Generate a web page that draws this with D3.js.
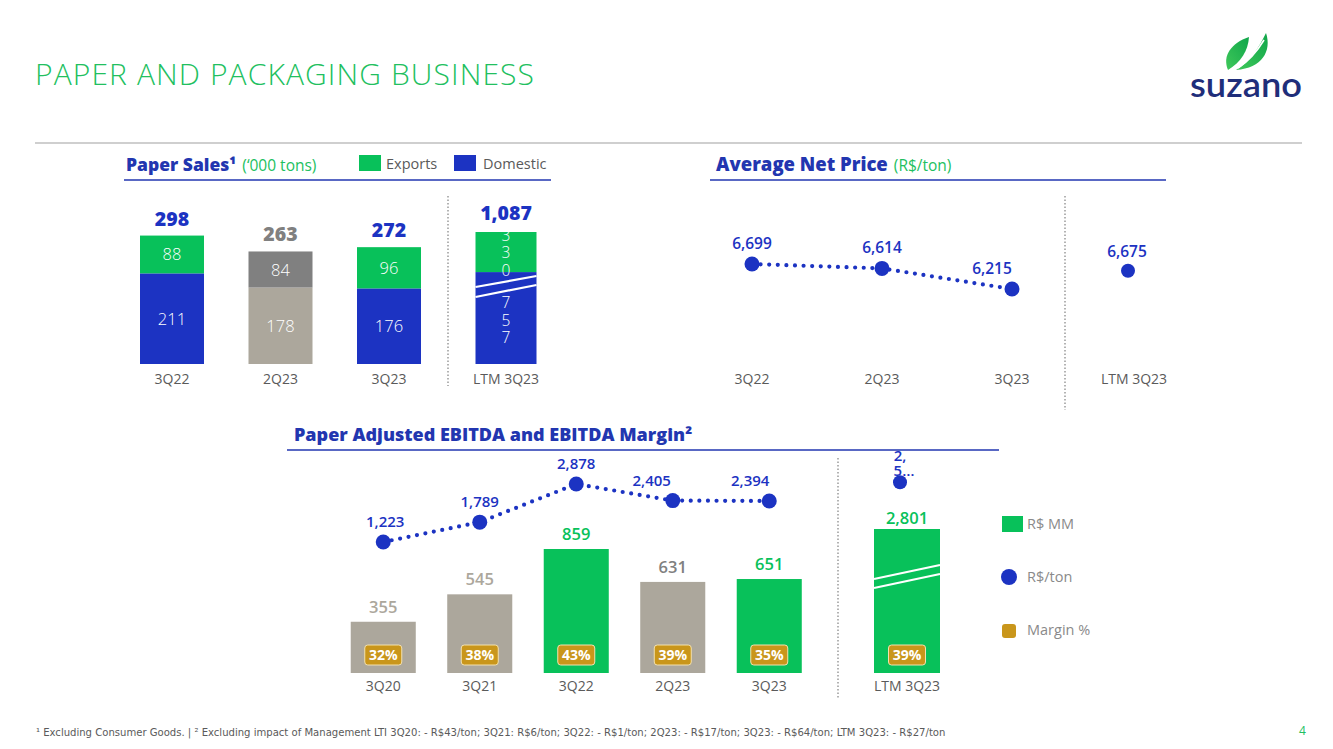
<!DOCTYPE html>
<html><head><meta charset="utf-8">
<script src="https://cdn.jsdelivr.net/npm/d3@7"></script>
<style>
body{margin:0;background:#fff;}
svg{display:block;font-family:"Open Sans",sans-serif;}
</style></head><body>
<svg id="c" width="1333" height="749"></svg>
<script>
// ---------------- DATA ----------------
const salesCats = ["3Q22", "2Q23", "3Q23"];
const salesExports = [88, 84, 96];
const salesDomestic = [211, 178, 176];
const salesTotal = [298, 263, 272];
const salesLtmCat = "LTM 3Q23";
const salesLtmExports = 330;
const salesLtmDomestic = 757;
const salesLtmTotal = 1087;

const priceCats = ["3Q22", "2Q23", "3Q23"];
const priceValues = [6699, 6614, 6215];
const priceLtmCat = "LTM 3Q23";
const priceLtmValue = 6675;

const ebitdaCats = ["3Q20", "3Q21", "3Q22", "2Q23", "3Q23"];
const ebitdaValues = [355, 545, 859, 631, 651];
const ebitdaPerTon = [1223, 1789, 2878, 2405, 2394];
const ebitdaMargin = [32, 38, 43, 39, 35];
const ebitdaLtmCat = "LTM 3Q23";
const ebitdaLtmValue = 2801;
const ebitdaLtmPerTon = 2575;   // label is truncated in the source ("2,5…")
const ebitdaLtmMargin = 39;

const salesLegend = ["Exports", "Domestic"];
const ebitdaLegend = ["R$ MM", "R$/ton", "Margin %"];

// ---------------- STYLE ----------------
const C = {
  blue: "#1c33c2", head: "#2236b0", green: "#08c15a", gray: "#aca79c",
  dgray: "#808080", text: "#5a5a5a", gold: "#c9961b", title: "#22bf60"
};
const highlight = new Set(["3Q22", "3Q23"]);
const fmt = d3.format(",");

const svg = d3.select("#c");

// ---------------- HEADER ----------------
svg.append("text").attr("x", 35).attr("y", 85)
  .attr("font-size", 30).attr("font-weight", 300).attr("fill", C.title).attr("letter-spacing", 1.1)
  .text("PAPER AND PACKAGING BUSINESS");

// logo
const logo = svg.append("g");
const lg = svg.append("defs").append("linearGradient").attr("id", "lf")
  .attr("x1", "0").attr("y1", "1").attr("x2", "1").attr("y2", "0");
lg.append("stop").attr("offset", "0").attr("stop-color", "#3fc85a");
lg.append("stop").attr("offset", "1").attr("stop-color", "#10a64a");
logo.append("path").attr("fill", "url(#lf)")
  .attr("d", "M1228,70 C1222,56 1231,43 1249,37 C1248,51 1241,62 1228,70Z");
logo.append("path").attr("fill", "url(#lf)")
  .attr("d", "M1236,70 C1251,61 1259,47 1266,33 C1272,51 1262,68 1236,70Z");
logo.append("path").attr("stroke", "#fff").attr("stroke-width", 1.6).attr("fill", "none")
  .attr("d", "M1238,68 C1250,60 1258,50 1264,40");
logo.append("text").attr("x", 1190).attr("y", 97).attr("font-family", "Lato, sans-serif")
  .attr("font-size", 35).attr("font-weight", 600).attr("fill", "#1f2e7a")
  .attr("textLength", 112).attr("lengthAdjust", "spacingAndGlyphs").text("suzano");

svg.append("line").attr("x1", 35).attr("x2", 1302).attr("y1", 143).attr("y2", 143)
  .attr("stroke", "#cfcfcf").attr("stroke-width", 2);

function heading(x, y, bold, sub, lineX1, lineX2, lineY, size) {
  const t = svg.append("text").attr("x", x).attr("y", y);
  t.append("tspan").attr("font-size", size).attr("font-weight", 800).attr("fill", C.head).text(bold);
  if (sub) t.append("tspan").attr("dx", 6).attr("font-size", 15.5).attr("fill", C.title).text(sub);
  svg.append("line").attr("x1", lineX1).attr("x2", lineX2).attr("y1", lineY).attr("y2", lineY)
    .attr("stroke", C.head).attr("stroke-width", 1.5);
}
function separator(x, y1, y2) {
  svg.append("line").attr("x1", x).attr("x2", x).attr("y1", y1).attr("y2", y2)
    .attr("stroke", "#9a9a9a").attr("stroke-width", 1.5).attr("stroke-dasharray", "1.5 2");
}
function xLabel(x, y, t) {
  svg.append("text").attr("x", x).attr("y", y).attr("text-anchor", "middle")
    .attr("font-size", 14).attr("fill", C.text).text(t);
}

// ---------------- PAPER SALES ----------------
heading(126, 171, "Paper Sales¹", "(‘000 tons)", 124, 551, 180, 17.5);
const salesLegCol = [C.green, C.blue];
const legX = d3.scalePoint().domain(salesLegend).range([359, 454]);
salesLegend.forEach((k, i) => {
  svg.append("rect").attr("x", legX(k)).attr("y", 155).attr("width", 22).attr("height", 16).attr("fill", salesLegCol[i]);
  svg.append("text").attr("x", legX(k) + 27 + i * 2).attr("y", 169).attr("font-size", 14.5).attr("fill", C.text).text(k);
});

const xS = d3.scalePoint().domain(salesCats).range([172, 389]);
const yS = d3.scaleLinear().domain([0, d3.max(salesTotal)]).range([364, 236]);
const bwS = 64;
const salesG = svg.append("g");
salesCats.forEach((c, i) => {
  const hl = highlight.has(c);
  const cx = xS(c), dom = salesDomestic[i], exp = salesExports[i];
  salesG.append("rect").attr("x", cx - bwS / 2).attr("width", bwS)
    .attr("y", yS(dom)).attr("height", yS(0) - yS(dom)).attr("fill", hl ? C.blue : C.gray);
  salesG.append("rect").attr("x", cx - bwS / 2).attr("width", bwS)
    .attr("y", yS(dom + exp)).attr("height", yS(dom) - yS(dom + exp)).attr("fill", hl ? C.green : C.dgray);
  salesG.append("text").attr("x", cx).attr("y", (yS(dom) + yS(0)) / 2 + 6).attr("text-anchor", "middle")
    .attr("font-size", 16.5).attr("font-weight", 300).attr("fill", "#fff").text(dom);
  salesG.append("text").attr("x", cx).attr("y", (yS(dom) + yS(dom + exp)) / 2 + 6).attr("text-anchor", "middle")
    .attr("font-size", 16.5).attr("font-weight", 300).attr("fill", "#fff").text(exp);
  salesG.append("text").attr("x", cx).attr("y", yS(salesTotal[i]) - 10).attr("text-anchor", "middle")
    .attr("font-size", 19.5).attr("font-weight", 800).attr("fill", hl ? C.blue : C.dgray).text(salesTotal[i]);
  xLabel(cx, 384, c);
});
separator(448, 196, 386);
// LTM (broken bar, own scale)
const xSL = d3.scalePoint().domain([salesLtmCat]).range([506, 506]);
const ySL = d3.scaleLinear().domain([0, salesLtmTotal]).range([364, 232]);
const lx = xSL(salesLtmCat), lbw = 61;
salesG.append("clipPath").attr("id", "clipS").append("rect")
  .attr("x", lx - lbw / 2).attr("y", ySL(salesLtmTotal)).attr("width", lbw).attr("height", ySL(0) - ySL(salesLtmTotal));
salesG.append("rect").attr("x", lx - lbw / 2).attr("width", lbw)
  .attr("y", ySL(salesLtmDomestic)).attr("height", ySL(0) - ySL(salesLtmDomestic)).attr("fill", C.blue);
salesG.append("rect").attr("x", lx - lbw / 2).attr("width", lbw)
  .attr("y", ySL(salesLtmTotal)).attr("height", ySL(salesLtmDomestic) - ySL(salesLtmTotal)).attr("fill", C.green);
function vertText(g, x, cy, str) {
  const chars = String(str).split("");
  const lh = 17.5;
  const t = g.append("text").attr("text-anchor", "middle").attr("font-size", 15.5).attr("font-weight", 300)
    .attr("fill", "#fff").attr("clip-path", "url(#clipS)");
  chars.forEach((ch, k) => {
    t.append("tspan").attr("x", x).attr("y", cy - (chars.length - 1) / 2 * lh + k * lh + 5.5).text(ch);
  });
}
vertText(salesG, lx, (ySL(salesLtmTotal) + ySL(salesLtmDomestic)) / 2 + 0.5, salesLtmExports);
vertText(salesG, lx, (ySL(salesLtmDomestic) + ySL(0)) / 2 + 2, salesLtmDomestic);
salesG.append("path").attr("d", `M${lx - lbw / 2},287 L${lx + lbw / 2},276 M${lx - lbw / 2},297 L${lx + lbw / 2},285`)
  .attr("stroke", "#fff").attr("stroke-width", 2.2);
salesG.append("text").attr("x", lx).attr("y", ySL(salesLtmTotal) - 12).attr("text-anchor", "middle")
  .attr("font-size", 19.5).attr("font-weight", 800).attr("fill", C.blue).text(fmt(salesLtmTotal));
xLabel(lx, 384, salesLtmCat);

// ---------------- AVERAGE NET PRICE ----------------
heading(716, 171, "Average Net Price", "(R$/ton)", 710, 1166, 180, 18.5);
const xP = d3.scalePoint().domain(priceCats).range([752, 1012]);
const yP = d3.scaleLinear().domain([d3.min(priceValues), d3.max(priceValues)]).range([289, 264]);
const priceG = svg.append("g");
const dotted = { "stroke": C.blue, "stroke-width": 4.2, "stroke-dasharray": "0 8.6", "stroke-linecap": "round", "fill": "none" };
const pl = priceG.append("path").attr("d", d3.line().x((d, i) => xP(priceCats[i])).y(d => yP(d))(priceValues));
Object.entries(dotted).forEach(([k, v]) => pl.attr(k, v));
const priceLabelDx = [0, 0, -20];
priceValues.forEach((v, i) => {
  priceG.append("circle").attr("cx", xP(priceCats[i])).attr("cy", yP(v)).attr("r", 7.5).attr("fill", C.blue);
  priceG.append("text").attr("x", xP(priceCats[i]) + priceLabelDx[i]).attr("y", yP(v) - 15).attr("text-anchor", "middle")
    .attr("font-size", 15.5).attr("font-weight", 600).attr("fill", C.blue).text(fmt(v));
  xLabel(xP(priceCats[i]), 384, priceCats[i]);
});
separator(1065, 196, 410);
const xPL = d3.scalePoint().domain([priceLtmCat]).range([1128, 1128]);
const yPL = d3.scaleLinear().domain([5800, 7000]).range([316, 254]);
priceG.append("circle").attr("cx", xPL(priceLtmCat)).attr("cy", yPL(priceLtmValue)).attr("r", 7).attr("fill", C.blue);
priceG.append("text").attr("x", xPL(priceLtmCat) - 1).attr("y", yPL(priceLtmValue) - 14).attr("text-anchor", "middle")
  .attr("font-size", 15.5).attr("font-weight", 600).attr("fill", C.blue).text(fmt(priceLtmValue));
xLabel(xPL(priceLtmCat) + 6, 384, priceLtmCat);

// ---------------- EBITDA ----------------
heading(294, 441, "Paper Adjusted EBITDA and EBITDA Margin²", null, 287, 999, 450, 18);
const xE = d3.scaleBand().domain(ebitdaCats).range([335, 817.5]).paddingInner(0.326).paddingOuter(0.163);
const yE = d3.scaleLinear().domain([0, d3.max(ebitdaValues)]).range([673, 549]);
const yT = d3.scaleLinear().domain([d3.min(ebitdaPerTon), d3.max(ebitdaPerTon)]).range([542, 484]);
const eG = svg.append("g");
function badge(g, cx, cy, m) {
  g.append("rect").attr("x", cx - 18.5).attr("y", cy - 10).attr("width", 37).attr("height", 20).attr("rx", 3)
    .attr("fill", C.gold).attr("stroke", "#f3e1ae").attr("stroke-width", 1);
  g.append("text").attr("x", cx).attr("y", cy + 5).attr("text-anchor", "middle")
    .attr("font-size", 14).attr("font-weight", 700).attr("fill", "#fff").text(m + "%");
}
const valColor = { "3Q20": C.gray, "3Q21": C.gray, "2Q23": C.dgray };
ebitdaCats.forEach((c, i) => {
  const hl = highlight.has(c);
  const x = xE(c), cx = x + xE.bandwidth() / 2, v = ebitdaValues[i];
  eG.append("rect").attr("x", x).attr("width", xE.bandwidth()).attr("y", yE(v)).attr("height", yE(0) - yE(v))
    .attr("fill", hl ? C.green : C.gray);
  eG.append("text").attr("x", cx).attr("y", yE(v) - 9).attr("text-anchor", "middle")
    .attr("font-size", 16.5).attr("font-weight", 600).attr("fill", hl ? C.green : valColor[c]).text(v);
  badge(eG, cx, 655, ebitdaMargin[i]);
  xLabel(cx, 691, c);
});
const el = eG.append("path").attr("d", d3.line().x((d, i) => xE(ebitdaCats[i]) + xE.bandwidth() / 2).y(d => yT(d))(ebitdaPerTon));
Object.entries(dotted).forEach(([k, v]) => el.attr(k, v));
const tonDx = [2, 0, 0, -21, -19];
ebitdaPerTon.forEach((v, i) => {
  const cx = xE(ebitdaCats[i]) + xE.bandwidth() / 2;
  eG.append("circle").attr("cx", cx).attr("cy", yT(v)).attr("r", 7.5).attr("fill", C.blue);
  eG.append("text").attr("x", cx + tonDx[i]).attr("y", yT(v) - 15).attr("text-anchor", "middle")
    .attr("font-size", 15).attr("font-weight", 600).attr("fill", C.blue).text(fmt(v));
});
separator(838, 458, 698);
// LTM
const xEL = d3.scalePoint().domain([ebitdaLtmCat]).range([907, 907]);
const yEL = d3.scaleLinear().domain([0, ebitdaLtmValue]).range([673, 529]);
const yTL = d3.scaleLinear().domain([2000, 3000]).range([515, 458]);
const ex = xEL(ebitdaLtmCat), ebw = 66;
eG.append("rect").attr("x", ex - ebw / 2).attr("width", ebw).attr("y", yEL(ebitdaLtmValue))
  .attr("height", yEL(0) - yEL(ebitdaLtmValue)).attr("fill", C.green);
eG.append("path").attr("d", `M${ex - ebw / 2},579 L${ex + ebw / 2},565 M${ex - ebw / 2},588 L${ex + ebw / 2},574`)
  .attr("stroke", "#fff").attr("stroke-width", 2.2);
eG.append("text").attr("x", ex).attr("y", yEL(ebitdaLtmValue) - 5).attr("text-anchor", "middle")
  .attr("font-size", 16.5).attr("font-weight", 600).attr("fill", C.green).text(fmt(ebitdaLtmValue));
badge(eG, ex, 655, ebitdaLtmMargin);
xLabel(ex, 691, ebitdaLtmCat);
const ltx = ex - 7;
eG.append("circle").attr("cx", ltx).attr("cy", yTL(ebitdaLtmPerTon)).attr("r", 7).attr("fill", C.blue);
const ls = fmt(ebitdaLtmPerTon);
const lt = eG.append("text").attr("text-anchor", "middle").attr("font-size", 15).attr("font-weight", 600).attr("fill", C.blue);
lt.append("tspan").attr("x", ltx).attr("y", 461).text(ls.slice(0, 2));
lt.append("tspan").attr("x", ltx + 4).attr("y", 476).text(ls.slice(2, 3) + "…");

// legend
const legY = d3.scalePoint().domain(ebitdaLegend).range([524, 630]);
svg.append("rect").attr("x", 1002).attr("y", legY("R$ MM") - 8).attr("width", 21).attr("height", 16).attr("fill", C.green);
svg.append("circle").attr("cx", 1009).attr("cy", legY("R$/ton")).attr("r", 8).attr("fill", C.blue);
svg.append("rect").attr("x", 1002).attr("y", legY("Margin %") - 6).attr("width", 14).attr("height", 14).attr("rx", 3).attr("fill", C.gold);
ebitdaLegend.forEach(k => {
  svg.append("text").attr("x", 1027).attr("y", legY(k) + 5).attr("font-size", 14.5).attr("fill", "#8a8a8a").text(k);
});

// ---------------- FOOTER ----------------
svg.append("text").attr("x", 36).attr("y", 736)
  .attr("font-family", "'Liberation Sans Narrow','DejaVu Sans Condensed',sans-serif")
  .attr("font-size", 11.2).attr("fill", C.text)
  .text("¹ Excluding Consumer Goods. | ² Excluding impact of Management LTI  3Q20: - R$43/ton; 3Q21: R$6/ton; 3Q22: - R$1/ton; 2Q23: - R$17/ton; 3Q23: - R$64/ton; LTM 3Q23: - R$27/ton");
svg.append("text").attr("x", 1299).attr("y", 735).attr("font-size", 12).attr("fill", C.title).text("4");
</script>
</body></html>
